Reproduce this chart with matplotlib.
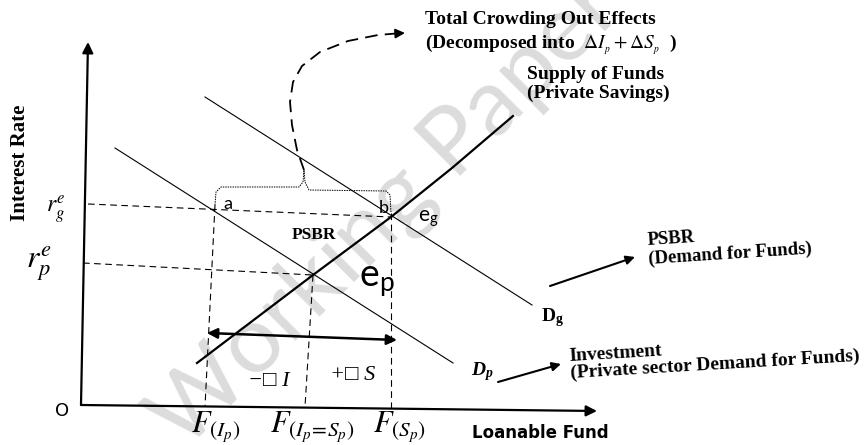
import matplotlib.pyplot as plt

plt.rcParams['mathtext.fontset'] = 'stix'
serif = 'Liberation Serif'
sans = 'Lato'

# axis end points (picture pixels, y downwards)
yaxis_x = [81, 88]
yaxis_y = [405, 42]
xaxis_x = [81, 597]
xaxis_y = [405, 411]

# supply of funds (private savings)
supply_x = [197, 255, 313, 352, 391, 452, 513]
supply_y = [363, 319, 275, 246, 217, 168, 116]

# demand lines
dp_x = [115, 453]
dp_y = [148, 363]
dg_x = [205, 532]
dg_y = [97, 305]

# equilibrium interest rates (dashed guides)
rg_x = [88, 391]
rg_y = [204, 217]
rp_x = [83, 313]
rp_y = [263, 275]

# vertical guides down to F(Ip), F(Ip=Sp), F(Sp)
vline_x = [[215, 205], [313, 305], [391, 391]]
vline_y = [[205, 407], [275, 407], [213, 408]]
f_labels = [r'$F_{(I_p)}$', r'$F_{(I_p\!=\!S_p)}$', r'$F_{(S_p)}$']
f_pos = [216, 312, 400]

# brace over a-b
brace_x = [215, 216, 221, 299, 303, 304, 305, 309, 386, 390, 391]
brace_y = [205, 192, 187, 187, 182, 170, 182, 190, 191, 195, 213]

# dashed curved arrow to the crowding-out note
curve_x = [304, 297, 292, 290, 293, 302, 320, 348, 378, 396]
curve_y = [170, 150, 125, 102, 82, 66, 52, 41, 35, 33.5]

fig = plt.figure(figsize=(8.68, 4.45), dpi=100)
ax = fig.add_axes([0, 0, 1, 1])
ax.set_xlim(0, 868)
ax.set_ylim(445, 0)
ax.axis('off')

# watermark
ax.text(184, 452, 'Working Paper', fontsize=68, family=sans, color='#dcdcdc',
        rotation=45, rotation_mode='anchor', ha='left', va='baseline', zorder=0)

arrow = dict(arrowstyle='-|>', color='black', lw=1.6, mutation_scale=16, shrinkA=0, shrinkB=0)
ax.annotate('', xy=(yaxis_x[1], yaxis_y[1]), xytext=(yaxis_x[0], yaxis_y[0]), arrowprops=arrow)
ax.annotate('', xy=(xaxis_x[1], xaxis_y[1]), xytext=(xaxis_x[0], xaxis_y[0]), arrowprops=arrow)

ax.plot(supply_x, supply_y, color='black', lw=1.6)
ax.plot(dp_x, dp_y, color='black', lw=0.8)
ax.plot(dg_x, dg_y, color='black', lw=0.8)

ax.plot(rg_x, rg_y, color='black', lw=0.8, dashes=(6, 4))
ax.plot(rp_x, rp_y, color='black', lw=0.8, dashes=(6, 4))
for xs, ys in zip(vline_x, vline_y):
    ax.plot(xs, ys, color='black', lw=0.8, dashes=(6, 4))

ax.plot(brace_x, brace_y, color='black', lw=0.7, dashes=(1.5, 1))
ax.plot(curve_x, curve_y, color='black', lw=1.3, dashes=(7, 4))
ax.annotate('', xy=(405, 33), xytext=(curve_x[-1], curve_y[-1]),
            arrowprops=dict(arrowstyle='-|>', color='black', lw=1.3, mutation_scale=14, shrinkA=0, shrinkB=0))

# change in funds arrow
ax.annotate('', xy=(397, 340), xytext=(207, 333),
            arrowprops=dict(arrowstyle='<|-|>', color='black', lw=1.8, mutation_scale=15, shrinkA=0, shrinkB=0))
# pointer arrows
ax.annotate('', xy=(561, 364), xytext=(498, 382),
            arrowprops=dict(arrowstyle='-|>', color='black', lw=1.5, mutation_scale=13, shrinkA=0, shrinkB=0))
ax.annotate('', xy=(635, 257), xytext=(550, 286),
            arrowprops=dict(arrowstyle='-|>', color='black', lw=1.5, mutation_scale=13, shrinkA=0, shrinkB=0))

# texts
ax.text(20, 163, 'Interest Rate', rotation=90, ha='center', va='center',
        family=serif, weight='bold', fontsize=15)
ax.text(56, 210, r'$r_g^e$', ha='center', va='center', fontsize=17)
ax.text(39, 264, r'$r_p^e$', ha='center', va='center', fontsize=23)
ax.text(62, 411, 'O', ha='center', va='center', family='DejaVu Sans', fontsize=13)

for lab, xp in zip(f_labels, f_pos):
    ax.text(xp, 427, lab, ha='center', va='center', fontsize=22)

ax.text(472, 433, 'Loanable Fund', ha='left', va='center', family='DejaVu Sans',
        weight='bold', fontsize=12)

ax.text(228, 204, 'a', ha='center', va='center', family=sans, fontsize=13)
ax.text(384, 208, 'b', ha='center', va='center', family=sans, fontsize=13)
ax.text(418, 219, r'e$_{\mathregular{g}}$', ha='left', va='center', family=sans, fontsize=15)
ax.text(359, 281, r'e$_{\mathregular{p}}$', ha='left', va='center', family=sans, fontsize=27)
ax.text(314, 235, 'PSBR', ha='center', va='center', family=serif, weight='bold', fontsize=12.5)

ax.text(269, 382, '−□ I', ha='center', va='center', family=serif, style='italic', fontsize=16)
ax.text(353, 375, '+□ S', ha='center', va='center', family=serif, style='italic', fontsize=16)

ax.text(541, 318, r'D$_{\mathregular{g}}$', ha='left', va='center', family=serif, weight='bold', fontsize=14)
ax.text(471, 372, r'D$_{\mathregular{p}}$', ha='left', va='center', family=serif, weight='bold',
        style='italic', fontsize=14)

ax.text(425, 20, 'Total Crowding Out Effects', ha='left', va='center', family=serif,
        weight='bold', fontsize=14)
ax.text(425, 45, r'(Decomposed into  $\Delta I_{_p} + \Delta S_{_p}$  )', ha='left', va='center',
        family=serif, weight='bold', fontsize=14)
ax.text(527, 84, 'Supply of Funds\n(Private Savings)', ha='left', va='center', family=serif,
        weight='bold', fontsize=14, linespacing=1.1)
ax.text(648, 250, 'PSBR\n(Demand for Funds)', ha='left', va='center', family=serif,
        weight='bold', fontsize=13.5, rotation=3.7, rotation_mode='anchor', linespacing=1.2)
ax.text(570, 365, 'Investment\n(Private sector Demand for Funds)', ha='left', va='center',
        family=serif, weight='bold', fontsize=14, rotation=3.4, rotation_mode='anchor',
        linespacing=1.05)

plt.savefig('out.png', dpi=100)
